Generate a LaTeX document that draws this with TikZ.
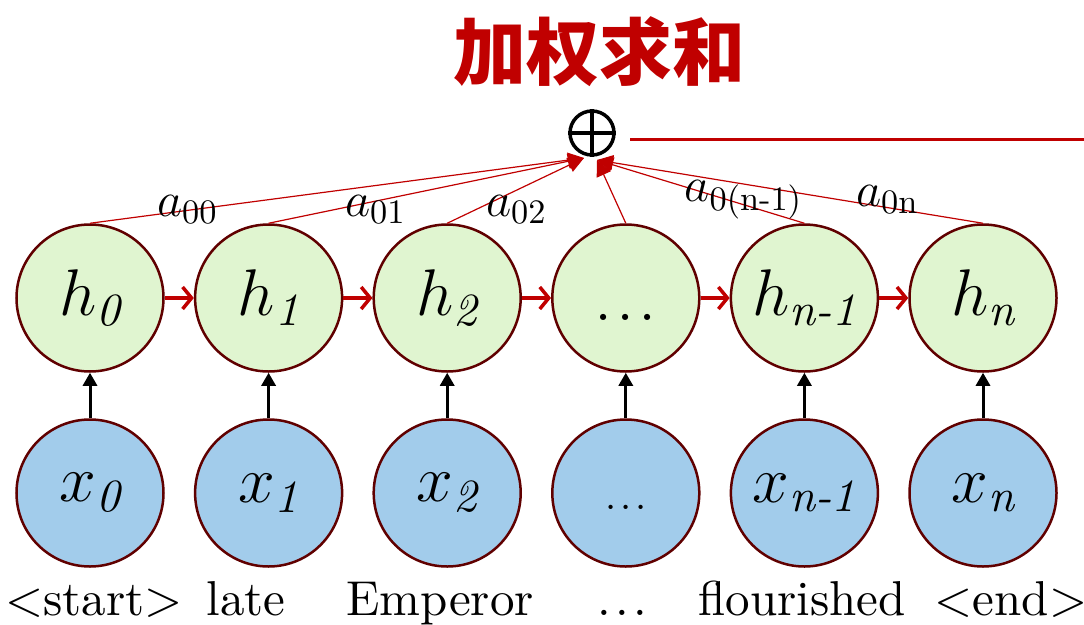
\RequirePackage{fix-cm}
\documentclass[tikz,border=0pt]{standalone}
\usepackage{amsmath}
\usepackage{fontspec}
\setmainfont{lmroman10-regular.otf}[ItalicFont=lmroman10-italic.otf, BoldFont=lmroman10-bold.otf]
\newfontfamily\cjk{Noto Sans CJK SC}
\usetikzlibrary{arrows.meta}
\definecolor{hfill}{RGB}{224,245,208}
\definecolor{xfill}{RGB}{162,204,235}
\definecolor{rimred}{RGB}{96,0,0}
\definecolor{sumred}{RGB}{192,0,0}
\newcommand{\dotrow}[1]{.\hspace{#1}.\hspace{#1}.}
\begin{document}
\begin{tikzpicture}[
  x=1pt, y=-1pt,
  hstate/.style={circle, draw=rimred, line width=2.5pt, fill=hfill,
    minimum size=147pt, inner sep=0pt, font=\fontsize{66}{70}\selectfont},
  xinput/.style={hstate, fill=xfill},
  word/.style={anchor=base, inner sep=0pt, font=\fontsize{49}{54}\selectfont},
  weight/.style={inner sep=0pt, font=\fontsize{49}{53}\selectfont},
  recur/.style={draw=sumred, line width=3.5pt, -{Straight Barb[length=9pt,width=22pt]}},
  feed/.style={draw=black, line width=3pt, -{Triangle[length=13pt,width=14pt]}},
  attn/.style={draw=sumred, line width=1.2pt, -{Triangle[length=16pt,width=15pt]}}
]
\useasboundingbox (0,0) rectangle (1084,624);
% hidden states
\node[hstate] (h0) at (90,298) {$h_{\text{\itshape 0}}$};
\node[hstate] (h1) at (268.6,298) {$h_{\text{\itshape 1}}$};
\node[hstate] (h2) at (447.2,298) {$h_{\text{\itshape 2}}$};
\node[hstate, font=\fontsize{58}{62}\selectfont, text height=44pt, text depth=0pt] (hd) at (625.8,298) {\dotrow{0.1em}};
\node[hstate] (hm) at (804.4,298) {$h_{\text{\itshape n-1}}$};
\node[hstate] (hn) at (983,298) {$h_{\text{\itshape n}}$};
% inputs
\node[xinput] (x0) at (90,493) {$x_{\text{\itshape 0}}$};
\node[xinput] (x1) at (268.6,493) {$x_{\text{\itshape 1}}$};
\node[xinput] (x2) at (447.2,493) {$x_{\text{\itshape 2}}$};
\node[xinput, font=\fontsize{40}{44}\selectfont, text height=32pt, text depth=0pt] (xd) at (625.8,493) {\dotrow{0.1em}};
\node[xinput] (xm) at (804.4,493) {$x_{\text{\itshape n-1}}$};
\node[xinput] (xn) at (983,493) {$x_{\text{\itshape n}}$};
% words
\node[word] (w0) at (94,615) {<start>};
\node[word] (w1) at (246,615) {late};
\node[word] (w2) at (440,615) {Emperor};
\node[word] (wd) at (622,615) {\dotrow{0.09em}};
\node[word] (wm) at (802,615) {flourished};
\node[word] (wn) at (1011,615) {<end>};
% weighted sum
\node[font=\cjk\bfseries\fontsize{73}{80}\selectfont, text=sumred] (title) at (599,52) {加权求和};
\node[circle, draw, line width=3.5pt, minimum size=44pt, inner sep=0pt] (sum) at (592,133) {};
\draw[line width=3.5pt] (sum.north) -- (sum.south) (sum.west) -- (sum.east);
\coordinate (tipL) at (584,158);
\coordinate (tipR) at (597,160);
\coordinate (outL) at (630,139);
\coordinate (outR) at (1084,139);
\draw[draw=sumred, line width=3pt] (outL) -- (outR);

\foreach \n in {h0,h1,h2}
  \draw[attn] (\n.north) -- (tipL);
\foreach \n in {hd,hm,hn}
  \draw[attn] (\n.north) -- (tipR);
\foreach \a/\b in {h0/h1,h1/h2,h2/hd,hd/hm,hm/hn}
  \draw[recur] (\a) -- (\b);
\foreach \a/\b in {x0/h0,x1/h1,x2/h2,xd/hd,xm/hm,xn/hn}
  \draw[feed] (\a) -- (\b);

\node[weight] (a0) at (187,210) {$a_{\mathrm{00}}$};
\node[weight] (a1) at (375,210) {$a_{\mathrm{01}}$};
\node[weight] (a2) at (516,210) {$a_{\mathrm{02}}$};
\node[weight] (am) at (743,200) {$a_{\text{0(n-1)}}$};
\node[weight] (an) at (887,200) {$a_{\text{0n}}$};
\end{tikzpicture}
\end{document}
